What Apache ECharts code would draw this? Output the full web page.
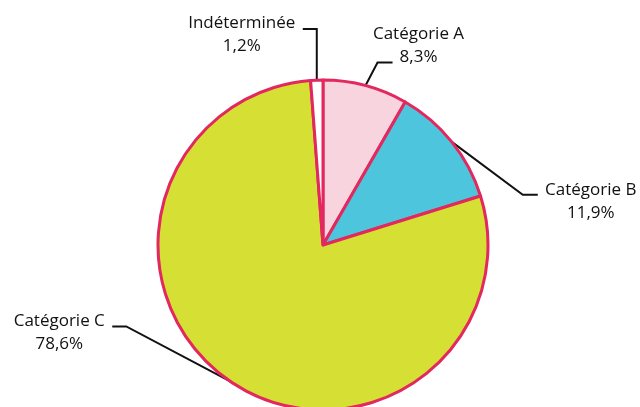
<!DOCTYPE html>
<html><head><meta charset="utf-8">
<script src="https://cdn.jsdelivr.net/npm/echarts@6/dist/echarts.min.js"></script>
<style>html,body{margin:0;padding:0;background:#fff}#c{width:640px;height:407px}</style>
</head><body><div id="c"></div>
<script>
const categories = ['Catégorie A', 'Catégorie B', 'Catégorie C', 'Indéterminée'];
const values = [8.3, 11.9, 78.6, 1.2];
const colors = ['#f7d4de', '#4dc5dc', '#d5df34', '#ffffff'];

// label placement relative to each slice's leader-line anchor (layout only)
const labelOffsets = [
  { label: [53, -40], elbow: [12, -23], end: [27, -23] },
  { label: [139, 60], elbow: [71, 53], end: [86, 53] },
  { label: [-171, -49], elbow: [-104, -55], end: [-118, -55] },
  { label: [-75, -45], elbow: [0, -51], end: [-14, -51] }
];

const chart = echarts.init(document.getElementById('c'), null, { renderer: 'canvas' });
chart.setOption({
  animation: false,
  series: [{
    type: 'pie',
    center: [323, 245],
    radius: 165,
    startAngle: 90,
    clockwise: true,
    avoidLabelOverlap: false,
    data: categories.map((n, i) => ({ name: n, value: values[i], itemStyle: { color: colors[i] } })),
    itemStyle: { borderColor: '#e2285e', borderWidth: 3 },
    label: {
      show: true,
      position: 'outside',
      formatter: p => p.name + '\n' + p.value.toFixed(1).replace('.', ',') + '%',
      fontFamily: 'Open Sans',
      fontSize: 17,
      lineHeight: 23,
      color: '#111111',
      align: 'center'
    },
    labelLine: { show: true, length: 20, length2: 15, lineStyle: { color: '#111', width: 2 } },
    labelLayout: function (p) {
      const o = labelOffsets[p.dataIndex];
      const a = p.labelLinePoints[0];
      return {
        x: a[0] + o.label[0],
        y: a[1] + o.label[1],
        align: 'center',
        verticalAlign: 'middle',
        labelLinePoints: [a, [a[0] + o.elbow[0], a[1] + o.elbow[1]], [a[0] + o.end[0], a[1] + o.end[1]]]
      };
    },
    emphasis: { disabled: true }
  }]
});
</script></body></html>
